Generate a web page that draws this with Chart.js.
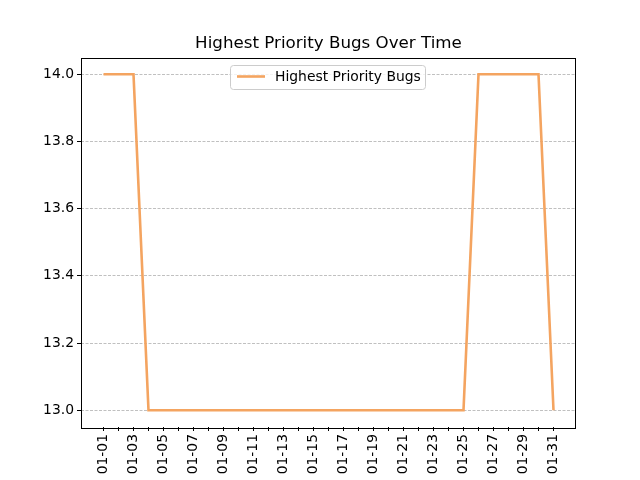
<!DOCTYPE html>
<html>
<head>
<meta charset="utf-8">
<script src="https://cdn.jsdelivr.net/npm/chart.js@4/dist/chart.umd.min.js"></script>
<style>
html,body{margin:0;padding:0;background:#fff;}
#wrap{width:640px;height:480px;}
</style>
</head>
<body>
<div id="wrap"><canvas id="c" width="640" height="480"></canvas></div>
<script>
const dates = ["01-01","01-02","01-03","01-04","01-05","01-06","01-07","01-08","01-09","01-10",
  "01-11","01-12","01-13","01-14","01-15","01-16","01-17","01-18","01-19","01-20",
  "01-21","01-22","01-23","01-24","01-25","01-26","01-27","01-28","01-29","01-30","01-31"];
const bugCounts = [14,14,14,13,13,13,13,13,13,13,
  13,13,13,13,13,13,13,13,13,13,
  13,13,13,13,13,14,14,14,14,14,13];
const yTicks = [13.0,13.2,13.4,13.6,13.8,14.0];
const seriesLabel = "Highest Priority Bugs";
const chartTitle = "Highest Priority Bugs Over Time";

const FONT = "'DejaVu Sans', sans-serif";
const lineColor = '#f4a460';

const framePlugin = {
  id: 'frame',
  afterDraw(chart) {
    const {ctx, chartArea: a} = chart;
    ctx.save();
    // title centred over the axes
    ctx.fillStyle = '#000';
    ctx.font = "16.7px " + FONT;
    ctx.textAlign = 'center';
    ctx.textBaseline = 'middle';
    ctx.fillText(chartTitle, (a.left + a.right) / 2, 44);
    // axes frame
    ctx.strokeStyle = '#000';
    ctx.lineWidth = 1;
    ctx.strokeRect(Math.round(a.left) + 0.5, Math.round(a.top) + 0.5,
      Math.round(a.right - a.left) - 1, Math.round(a.bottom - a.top));
    // legend
    const x0 = 230.5, y0 = 65.5, w = 195, h = 24, r = 3;
    ctx.beginPath();
    ctx.moveTo(x0 + r, y0);
    ctx.lineTo(x0 + w - r, y0); ctx.arcTo(x0 + w, y0, x0 + w, y0 + r, r);
    ctx.lineTo(x0 + w, y0 + h - r); ctx.arcTo(x0 + w, y0 + h, x0 + w - r, y0 + h, r);
    ctx.lineTo(x0 + r, y0 + h); ctx.arcTo(x0, y0 + h, x0, y0 + h - r, r);
    ctx.lineTo(x0, y0 + r); ctx.arcTo(x0, y0, x0 + r, y0, r);
    ctx.closePath();
    ctx.fillStyle = 'rgba(255,255,255,0.8)';
    ctx.fill();
    ctx.strokeStyle = '#cccccc';
    ctx.lineWidth = 1;
    ctx.stroke();
    ctx.beginPath();
    ctx.moveTo(237, 76.5); ctx.lineTo(265, 76.5);
    ctx.strokeStyle = lineColor; ctx.lineWidth = 2.6;
    ctx.stroke();
    ctx.fillStyle = '#000';
    ctx.font = "13.9px " + FONT;
    ctx.textBaseline = 'middle';
    ctx.textAlign = 'left';
    ctx.fillText(chart.data.datasets[0].label, 275, 77);
    ctx.restore();
  }
};

new Chart(document.getElementById('c'), {
  type: 'line',
  data: {
    datasets: [{
      label: seriesLabel,
      data: bugCounts.map((v, i) => ({x: i, y: v})),
      borderColor: lineColor,
      backgroundColor: lineColor,
      borderWidth: 2.6,
      pointRadius: 0,
      tension: 0,
      fill: false
    }]
  },
  options: {
    responsive: false,
    animation: false,
    layout: {padding: {left: 0, right: 64, top: 57.5, bottom: 0}},
    plugins: {
      legend: {display: false},
      tooltip: {enabled: false},
      title: {display: false}
    },
    scales: {
      x: {
        type: 'linear',
        min: -1.5,
        max: dates.length - 1 + 1.5,
        afterBuildTicks(scale) { scale.ticks = dates.map((d, i) => ({value: i})); },
        afterFit(scale) { scale.height = 53; },
        ticks: {
          autoSkip: false,
          minRotation: 90,
          maxRotation: 90,
          padding: 3,
          color: '#000',
          font: {family: FONT, size: 13.9},
          callback: (v) => (v % 2 === 0 ? dates[v] : '')
        },
        grid: {
          display: true,
          drawOnChartArea: false,
          drawTicks: true,
          tickLength: 4,
          tickColor: '#000',
          tickWidth: 1
        },
        border: {display: false}
      },
      y: {
        min: 12.95,
        max: 14.05,
        afterBuildTicks(scale) { scale.ticks = yTicks.map(v => ({value: v})); },
        afterFit(scale) { scale.width = 81; },
        ticks: {
          padding: 3,
          color: '#000',
          font: {family: FONT, size: 13.9},
          callback: (v) => Number(v).toFixed(1)
        },
        grid: {
          display: true,
          drawOnChartArea: true,
          color: '#b0b0b0',
          lineWidth: 0.8,
          drawTicks: true,
          tickLength: 4,
          tickColor: '#000',
          tickWidth: 1,
          tickBorderDash: []
        },
        border: {display: false, dash: [3, 1.5]}
      }
    }
  },
  plugins: [framePlugin]
});
</script>
</body>
</html>
